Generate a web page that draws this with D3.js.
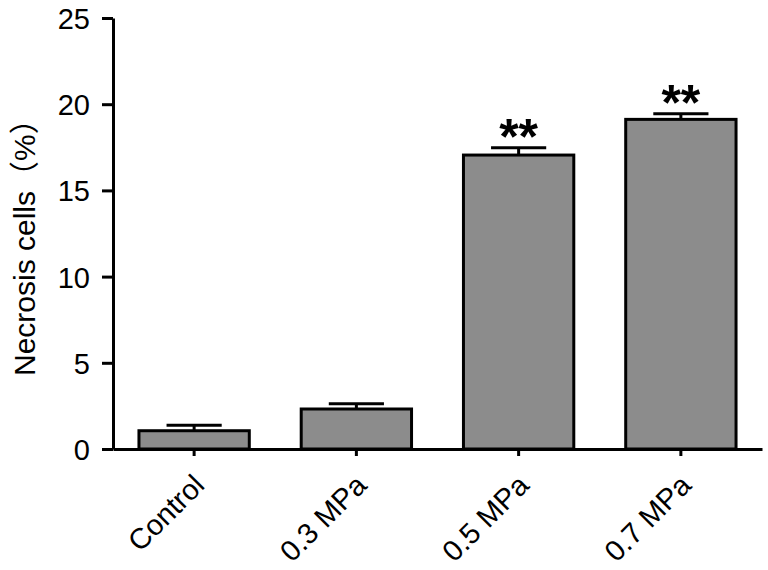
<!DOCTYPE html>
<html lang="en">
  <head>
    <meta charset="UTF-8" />
    <title>Necrosis cells</title>
    <style>
      body { margin: 0; background: #fff; }
      text { font-family: "Liberation Sans", Arial, "Noto Sans CJK SC", sans-serif; fill: #000; }
    </style>
  </head>
  <body>
    <div id="wrapper"></div>
    <script src="https://d3js.org/d3.v7.min.js"></script>
    <script>
      // data
      var groups = ["Control", "0.3 MPa", "0.5 MPa", "0.7 MPa"];
      var means = [1.06, 2.32, 17.05, 19.12];
      var errors = [0.32, 0.3, 0.42, 0.33];
      var marks = ["", "", "**", "**"];
      var yTicks = [0, 5, 10, 15, 20, 25];

      var width = 768, height = 570;

      var svg = d3.select("#wrapper").append("svg")
          .attr("width", width)
          .attr("height", height);

      var x = d3.scaleBand()
          .domain(groups)
          .range([113, 762])
          .paddingInner(0.32)
          .paddingOuter(0.16);

      var y = d3.scaleLinear().domain([0, 25]).range([449, 18]);

      // bars
      svg.selectAll(".bar")
          .data(groups)
        .enter().append("rect")
          .attr("class", "bar")
          .attr("x", function(d) { return x(d); })
          .attr("y", function(d, i) { return y(means[i]); })
          .attr("width", x.bandwidth())
          .attr("height", function(d, i) { return y(0) - y(means[i]); })
          .attr("fill", "#8c8c8c")
          .attr("stroke", "#000")
          .attr("stroke-width", 3);

      // error bars (upper only)
      var capW = x.bandwidth() / 2;
      groups.forEach(function(g, i) {
        var cx = x(g) + x.bandwidth() / 2;
        svg.append("line")
            .attr("x1", cx).attr("x2", cx)
            .attr("y1", y(means[i])).attr("y2", y(means[i] + errors[i]))
            .attr("stroke", "#000").attr("stroke-width", 3);
        svg.append("line")
            .attr("x1", cx - capW / 2).attr("x2", cx + capW / 2)
            .attr("y1", y(means[i] + errors[i])).attr("y2", y(means[i] + errors[i]))
            .attr("stroke", "#000").attr("stroke-width", 3);
        if (marks[i]) {
          svg.append("text")
              .attr("x", cx)
              .attr("y", y(means[i] + errors[i]) + 6)
              .attr("text-anchor", "middle")
              .style("font-size", "50px")
              .style("font-weight", "bold")
              .text(marks[i]);
        }
      });

      // y axis
      var yAxis = svg.append("g")
          .attr("transform", "translate(113,0)")
          .call(d3.axisLeft(y).tickValues(yTicks).tickSize(11).tickPadding(12).tickSizeOuter(0));
      yAxis.selectAll("text").style("font-size", "29px").attr("dy", "0.36em");

      // x axis
      var xAxis = svg.append("g")
          .attr("transform", "translate(0,449)")
          .call(d3.axisBottom(x).tickSize(7).tickSizeOuter(0));
      xAxis.selectAll("text")
          .style("font-size", "29px")
          .attr("text-anchor", "end")
          .attr("y", 0)
          .attr("dy", 0)
          .attr("transform", "translate(12,38) rotate(-45)");

      svg.selectAll(".domain").attr("stroke", "#000").attr("stroke-width", 3);
      svg.selectAll(".tick line").attr("stroke", "#000").attr("stroke-width", 3);

      // y label
      svg.append("text")
          .attr("transform", "translate(35,376) rotate(-90)")
          .attr("text-anchor", "start")
          .style("font-size", "30px")
          .text("Necrosis cells（%）");
    </script>
  </body>
</html>
